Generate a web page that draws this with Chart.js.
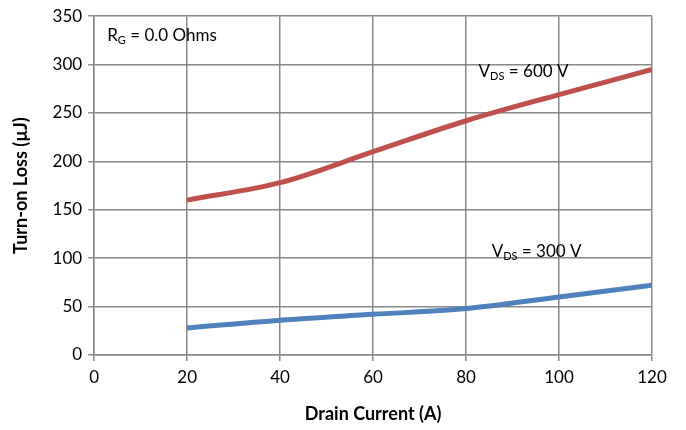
<!DOCTYPE html>
<html>
<head>
<meta charset="utf-8">
<script src="https://cdn.jsdelivr.net/npm/chart.js@4/dist/chart.umd.min.js"></script>
<style>
  html, body { margin: 0; padding: 0; background: #fff; }
  #wrap { width: 686px; height: 430px; }
</style>
</head>
<body>
<div id="wrap"><canvas id="c" width="686" height="430"></canvas></div>
<script>
// Turn-on loss vs drain current
const drainCurrent = [20, 40, 60, 80, 100, 120];
const loss600 = [160, 178, 210, 242, 269, 295];
const loss300 = [28, 36, 42, 48, 60, 72];

const labels = [
  { x: 2.8, y: 330, main: "R", sub: "G", rest: " = 0.0 Ohms" },
  { x: 82.7, y: 293, main: "V", sub: "DS", rest: " = 600 V" },
  { x: 85.5, y: 107, main: "V", sub: "DS", rest: " = 300 V" },
];

const FONT = "Lato, 'Open Sans', sans-serif";

const textPlugin = {
  id: "subLabels",
  afterDatasetsDraw(chart) {
    const { ctx, scales } = chart;
    ctx.save();
    ctx.fillStyle = "#000";
    ctx.textBaseline = "middle";
    labels.forEach((l) => {
      let px = scales.x.getPixelForValue(l.x);
      const py = scales.y.getPixelForValue(l.y);
      ctx.font = "17px " + FONT;
      ctx.fillText(l.main, px, py);
      px += ctx.measureText(l.main).width;
      ctx.font = "11px " + FONT;
      ctx.fillText(l.sub, px, py + 5);
      px += ctx.measureText(l.sub).width;
      ctx.font = "17px " + FONT;
      ctx.fillText(l.rest, px, py);
    });
    ctx.restore();
  },
};

new Chart(document.getElementById("c"), {
  type: "line",
  data: {
    datasets: [
      {
        label: "VDS = 600 V",
        data: drainCurrent.map((x, i) => ({ x, y: loss600[i] })),
        borderColor: "#c0504d",
        borderWidth: 5,
        pointRadius: 0,
        cubicInterpolationMode: "monotone",
      },
      {
        label: "VDS = 300 V",
        data: drainCurrent.map((x, i) => ({ x, y: loss300[i] })),
        borderColor: "#4f81bd",
        borderWidth: 5,
        pointRadius: 0,
        cubicInterpolationMode: "monotone",
      },
    ],
  },
  options: {
    responsive: false,
    animation: false,
    layout: { padding: { top: 11, right: 34, left: 10, bottom: 0 } },
    plugins: { legend: { display: false }, tooltip: { enabled: false } },
    scales: {
      x: {
        type: "linear",
        min: 0,
        max: 120,
        ticks: { stepSize: 20, color: "#000", font: { family: FONT, size: 17 }, padding: 6 },
        grid: { color: "#888", lineWidth: 1.5, tickLength: 6 },
        border: { color: "#888", width: 1.5 },
        title: {
          display: true,
          text: "Drain Current (A)",
          color: "#000",
          font: { family: FONT, size: 18, weight: "bold" },
          padding: { top: 10, bottom: 5 },
        },
      },
      y: {
        min: 0,
        max: 350,
        ticks: { stepSize: 50, color: "#000", font: { family: FONT, size: 17 }, padding: 6 },
        grid: { color: "#888", lineWidth: 1.5, tickLength: 6 },
        border: { color: "#888", width: 1.5 },
        title: {
          display: true,
          text: "Turn-on Loss (µJ)",
          color: "#000",
          font: { family: FONT, size: 18, weight: "bold" },
          padding: { top: 0, bottom: 15 },
        },
      },
    },
  },
  plugins: [textPlugin],
});
</script>
</body>
</html>
